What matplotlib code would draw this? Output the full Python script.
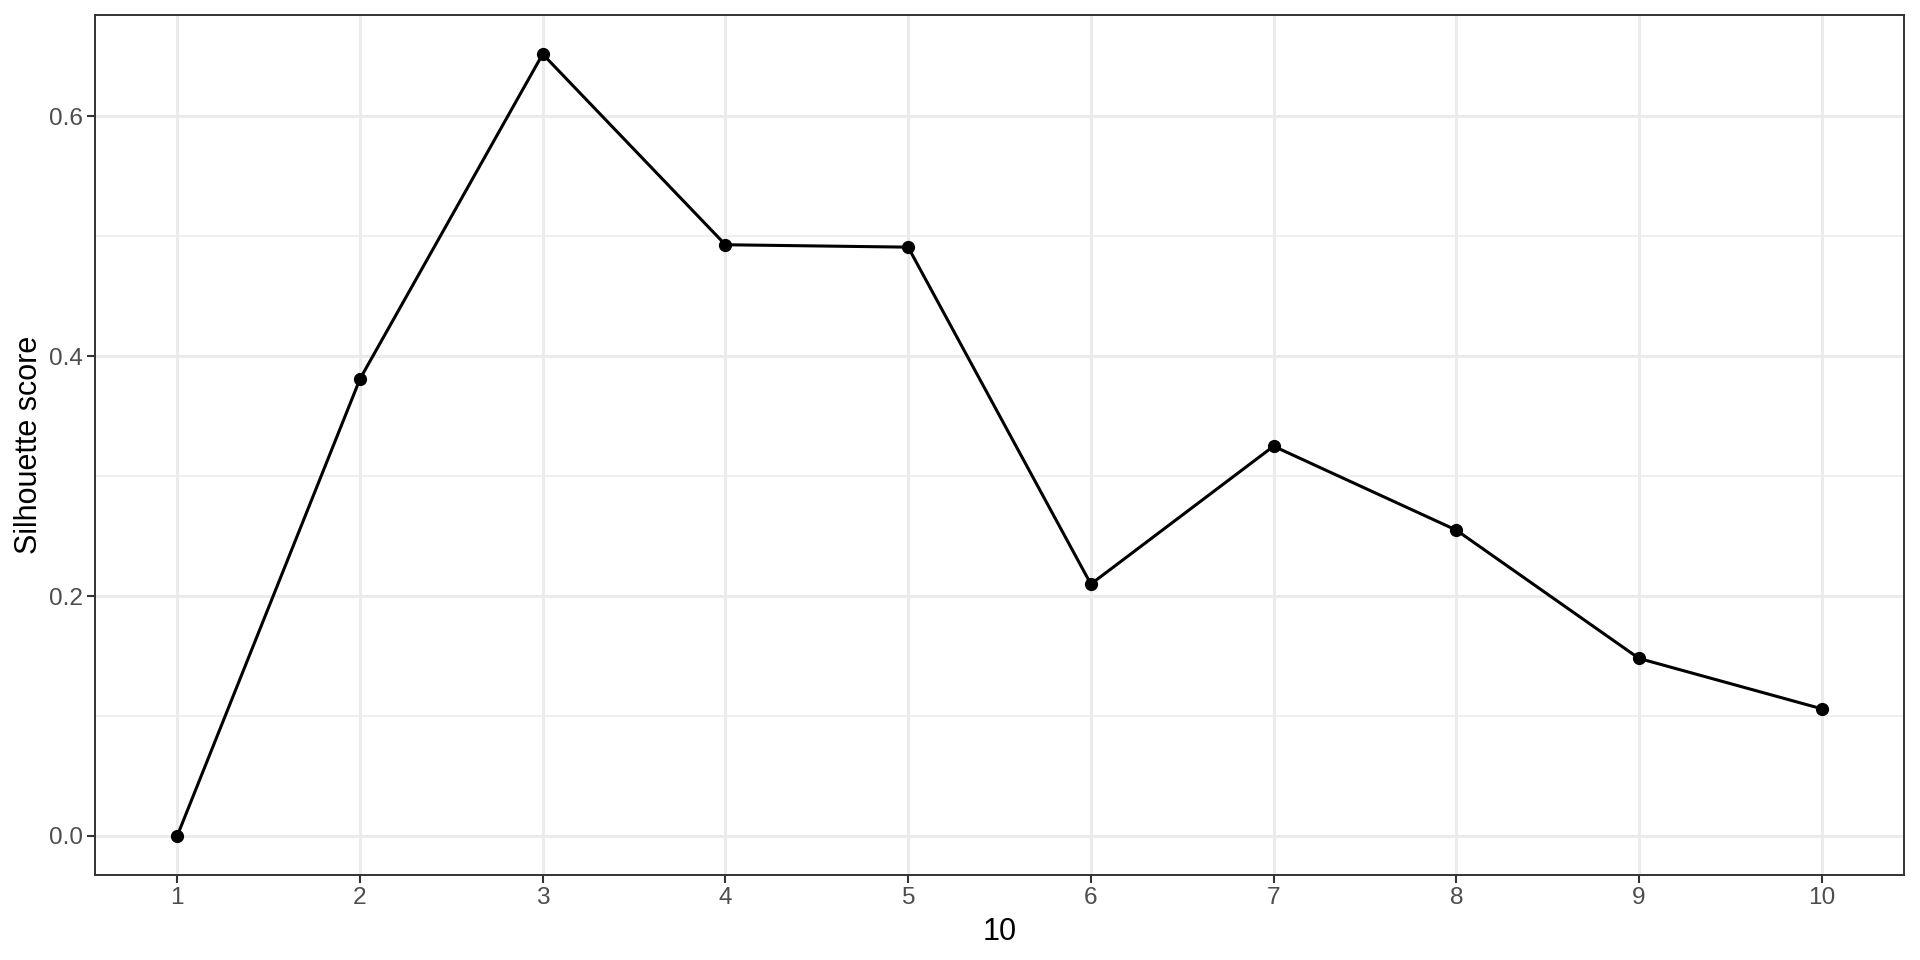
import matplotlib
matplotlib.use('Agg')
from matplotlib import pyplot as plt

clusters = [1, 2, 3, 4, 5, 6, 7, 8, 9, 10]
silhouette = [0.0, 0.381, 0.652, 0.493, 0.491, 0.210, 0.325, 0.255, 0.148, 0.106]
y_major = [0.0, 0.2, 0.4, 0.6]
y_minor = [0.1, 0.3, 0.5]

plt.rcParams['font.family'] = ['Liberation Sans', 'DejaVu Sans']

fig = plt.figure(figsize=(19.2, 9.6), dpi=100)
ax = fig.add_axes([95 / 1920, 85 / 960, 1809 / 1920, 860 / 960])

# ggplot-like theme_bw
for y in y_minor:
    ax.axhline(y, color='#EBEBEB', lw=1.1, zorder=0)
for y in y_major:
    ax.axhline(y, color='#EBEBEB', lw=2.2, zorder=0)
for x in clusters:
    ax.axvline(x, color='#EBEBEB', lw=2.2, zorder=0)

ax.plot(clusters, silhouette, color='black', lw=2.2, zorder=2)
ax.plot(clusters, silhouette, 'o', color='black', ms=8.5, zorder=3)

span = max(silhouette) - min(silhouette)
ax.set_xlim(1 - 0.45, 10 + 0.45)
ax.set_ylim(min(silhouette) - 0.05 * span, max(silhouette) + 0.05 * span)

ax.set_xticks(clusters)
ax.set_xticklabels([str(c) for c in clusters])
ax.set_yticks(y_major)
ax.set_yticklabels(['0.0', '0.2', '0.4', '0.6'])
ax.tick_params(axis='both', length=7.6 / 1.389, width=1.5, color='#333333',
               labelcolor='#4D4D4D', labelsize=17.6, pad=3)

for spine in ax.spines.values():
    spine.set_color('#333333')
    spine.set_linewidth(1.4)

ax.set_xlabel('10', fontsize=22, color='black', labelpad=6)
ax.set_ylabel('Silhouette score', fontsize=22, color='black', labelpad=4)

plt.savefig('out.png', dpi=100)
